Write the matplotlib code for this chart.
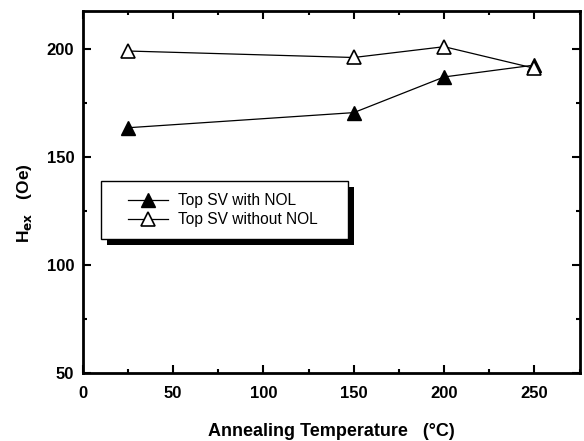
import matplotlib.pyplot as plt
from matplotlib.patches import Rectangle
from matplotlib.ticker import MultipleLocator

plt.rcParams['font.family'] = ['Liberation Sans', 'DejaVu Sans']

temp = [25, 150, 200, 250]
hex_with_nol = [163.5, 170.5, 187, 192.5]
hex_without_nol = [199, 196, 201, 191]

fig = plt.figure(figsize=(5.84, 4.41), dpi=100)
ax = fig.add_axes([0.1416, 0.154, 0.851, 0.821])

ax.plot(temp, hex_with_nol, '-', color='black', lw=0.9, marker='^', ms=10,
        mfc='black', mec='black', label='Top SV with NOL')
ax.plot(temp, hex_without_nol, '-', color='black', lw=0.9, marker='^', ms=10,
        mfc='white', mec='black', mew=1.2, label='Top SV without NOL')

ax.set_xlim(0, 275)
ax.set_ylim(50, 217.5)
ax.xaxis.set_major_locator(MultipleLocator(50))
ax.xaxis.set_minor_locator(MultipleLocator(25))
ax.yaxis.set_major_locator(MultipleLocator(50))
ax.yaxis.set_minor_locator(MultipleLocator(25))
ax.tick_params(which='both', direction='in', top=True, right=True, width=1.5)
ax.tick_params(which='major', length=6, labelsize=12)
ax.tick_params(which='minor', length=3)
ax.tick_params(axis='x', pad=9)
ax.tick_params(axis='y', pad=6)
for lab in ax.get_xticklabels() + ax.get_yticklabels():
    lab.set_fontweight('bold')
for s in ax.spines.values():
    s.set_linewidth(2)

ax.set_xlabel('Annealing Temperature   (°C)', fontsize=13, fontweight='bold', labelpad=16)
ax.set_ylabel(r'H$_{\mathbf{ex}}$   (Oe)', fontsize=12.5, fontweight='bold', labelpad=9)
ax.yaxis.label.set_y(0.47)

# legend box with solid black drop shadow
ax.add_patch(Rectangle((0.049, 0.3545), 0.497, 0.1585, transform=ax.transAxes,
                       facecolor='black', edgecolor='none', zorder=4))
ax.add_patch(Rectangle((0.037, 0.371), 0.497, 0.1585, transform=ax.transAxes,
                       facecolor='white', edgecolor='black', lw=1, zorder=5))
leg = ax.legend(loc='upper left', bbox_to_anchor=(0.091, 0.497), fontsize=11.2,
                frameon=False, handlelength=2.6, handletextpad=0.65,
                borderpad=0, borderaxespad=0, labelspacing=0.25)
leg.set_zorder(6)

fig.savefig('out.png', dpi=100)
